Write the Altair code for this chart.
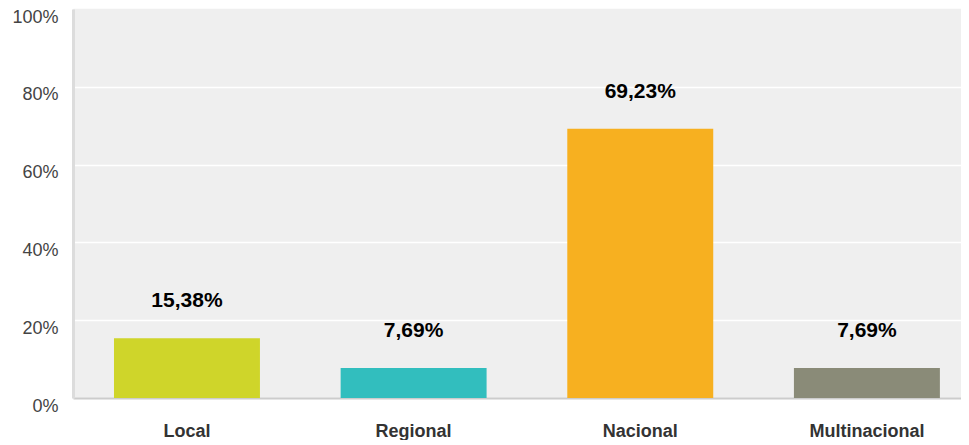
import altair as alt
import pandas as pd

categories = ["Local", "Regional", "Nacional", "Multinacional"]
values = [15.38, 7.69, 69.23, 7.69]
colors = ["#cfd52a", "#32bebe", "#f7b020", "#8a8b78"]

labels = [f"{v:.2f}".replace(".", ",") + "%" for v in values]
df = pd.DataFrame({"cat": categories, "val": values, "lab": labels})

FONT = "Liberation Sans"

x = alt.X(
    "cat:N",
    sort=categories,
    title=None,
    scale=alt.Scale(paddingInner=0.356, paddingOuter=0.137, align=0.66),
    axis=alt.Axis(
        labelAngle=0,
        labelFont=FONT,
        labelFontSize=18,
        labelFontWeight="bold",
        labelColor="#333333",
        labelPadding=24,
        ticks=False,
        domainColor="#cccccc",
        domainWidth=2,
        grid=False,
    ),
)

y = alt.Y(
    "val:Q",
    title=None,
    scale=alt.Scale(domain=[0, 100], nice=False),
    axis=alt.Axis(
        values=list(range(0, 101, 10)),
        labelExpr="datum.value % 20 == 0 ? datum.value + '%' : ''",
        labelFont=FONT,
        labelFontSize=18,
        labelColor="#444444",
        labelPadding=15,
        labelOffset=8,
        ticks=False,
        domainColor="#dcdcdc",
        domainWidth=3,
        gridColor={"condition": {"test": "datum.value >= 100", "value": "#efefef"}, "value": "#ffffff"},
        gridWidth=1.5,
        gridOpacity=1,
        minExtent=65,
        maxExtent=65,
    ),
)

bars = alt.Chart(df).mark_bar().encode(
    x=x,
    y=y,
    color=alt.Color("cat:N", scale=alt.Scale(domain=categories, range=colors), legend=None),
)

text = alt.Chart(df).mark_text(
    dy=-37, font=FONT, fontSize=21, fontWeight="bold", color="#000000", baseline="middle"
).encode(
    x=alt.X("cat:N", sort=categories),
    y=alt.Y("val:Q"),
    text="lab:N",
)

chart = (
    alt.layer(bars, text)
    .properties(width=888, height=389, padding=0)
    .configure_view(fill="#efefef", stroke=None)
)

chart.save("out.html", embed_options={"renderer": "svg", "actions": False})
